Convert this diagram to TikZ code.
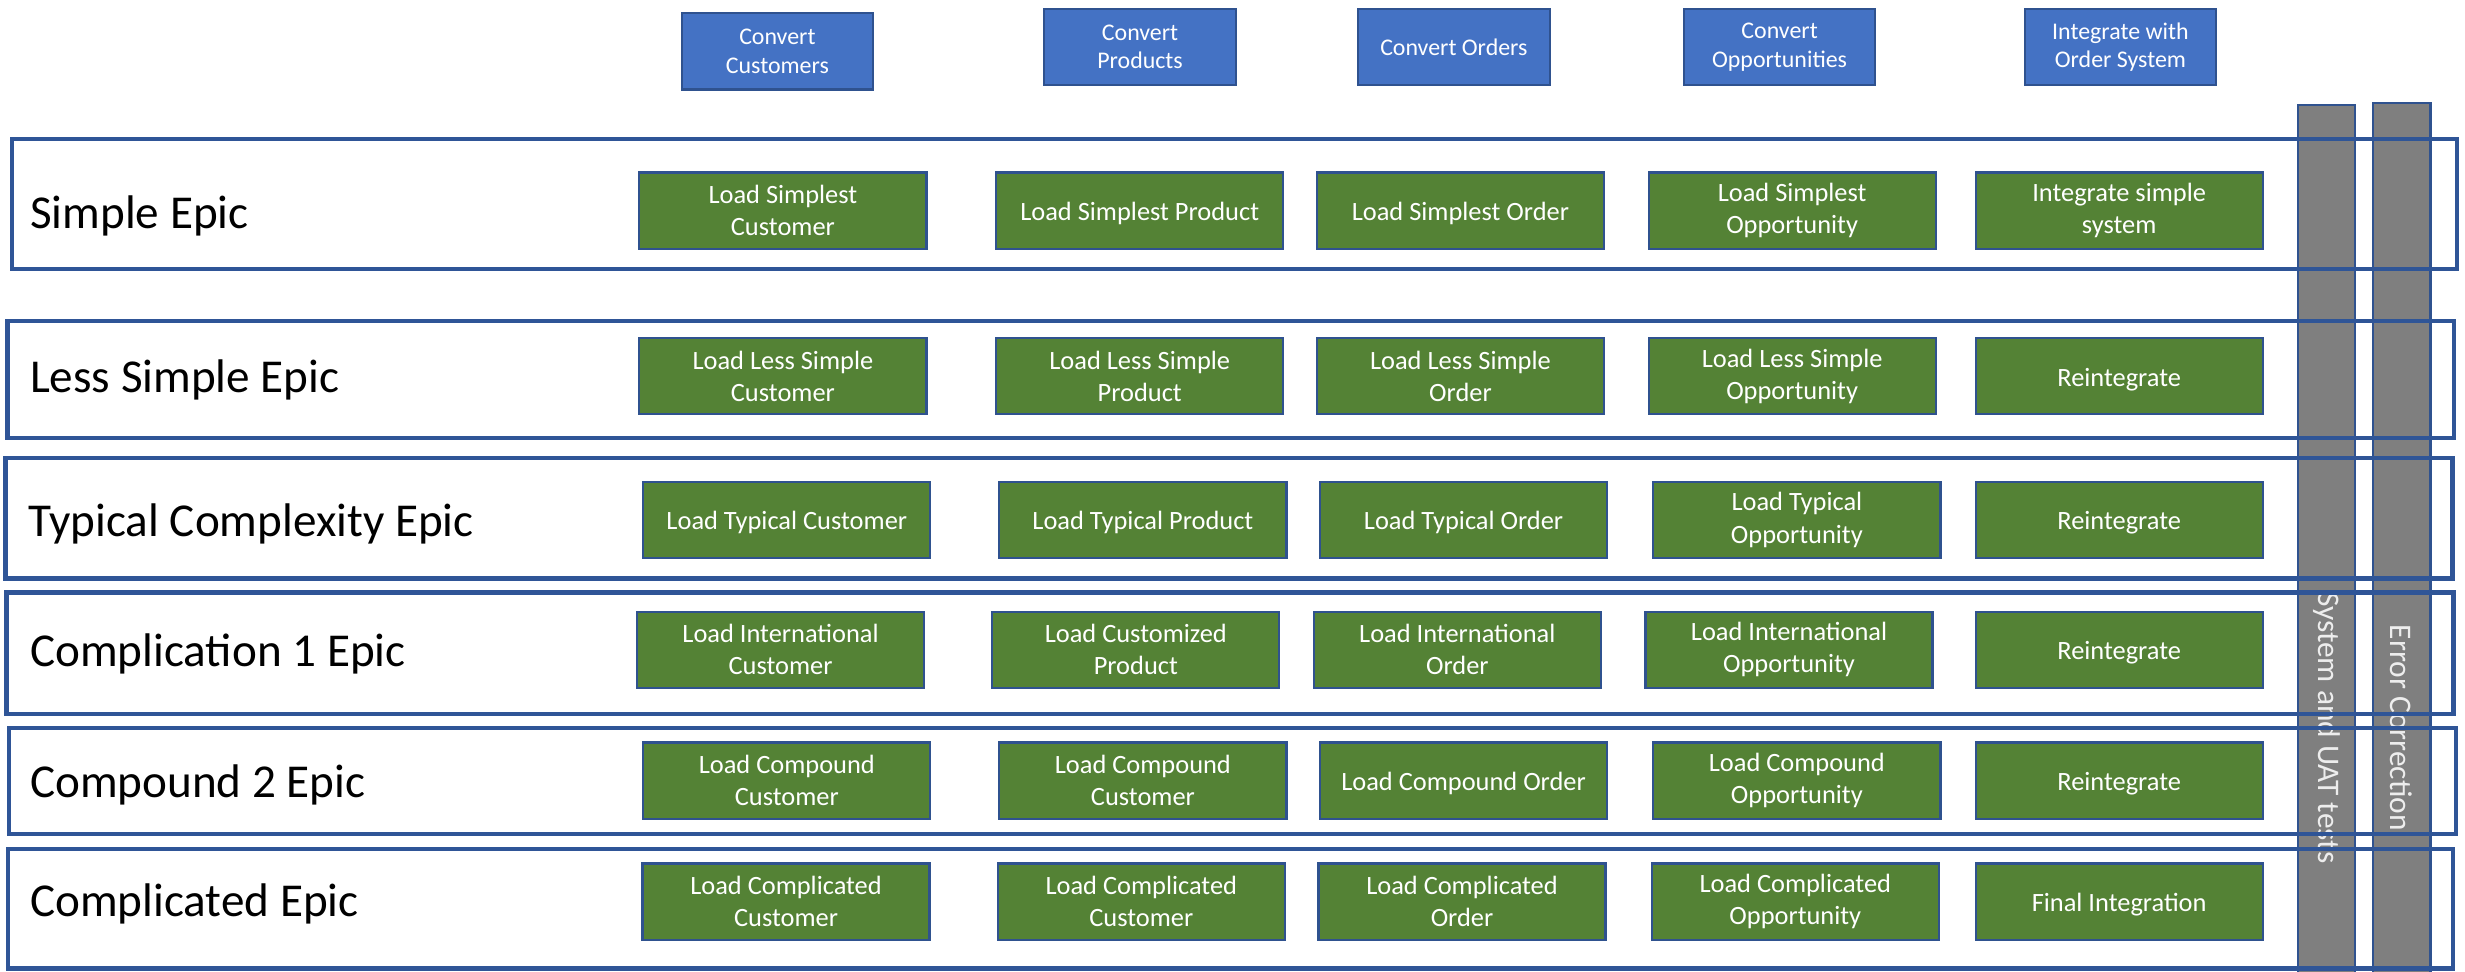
\documentclass[tikz,border=0pt]{standalone}
\usepackage{fontspec}
\setmainfont{Carlito}
\usepackage{xcolor}
\definecolor{frameColor}{HTML}{2F5597}
\definecolor{lineColor}{HTML}{2F528F}
\definecolor{taskBgColor}{HTML}{548235}
\definecolor{convBgColor}{HTML}{4472C4}
\definecolor{barBgColor}{HTML}{7F7F7F}
\definecolor{barTextColor}{HTML}{EDEDED}
\def\epicA{Simple Epic}
\def\epicB{Less Simple Epic}
\def\epicC{Typical Complexity Epic}
\def\epicD{Complication 1 Epic}
\def\epicE{Compound 2 Epic}
\def\epicF{Complicated Epic}

\begin{document}
\begin{tikzpicture}[x=1bp,y=-1bp,
taskbox/.style={draw=lineColor, line width=1.4bp, fill=taskBgColor, text=white,
minimum width=182.6bp, minimum height=48.5bp, inner sep=0pt, align=center,
font=\fontsize{16.8bp}{20.5bp}\selectfont},
taskline/.style={taskbox, text height=16bp, text depth=3.4bp},
convbox/.style={draw=lineColor, line width=1.4bp, fill=convBgColor, text=white,
minimum width=121.8bp, minimum height=48.5bp, inner sep=0pt, align=center,
font=\fontsize{15.2bp}{18bp}\selectfont},
epiclabel/.style={anchor=base west, inner sep=0pt,
font=\fontsize{30bp}{36bp}\selectfont},
epicframe/.style={draw=frameColor, line width=2.8bp},
barbox/.style={draw=lineColor, line width=1.4bp, fill=barBgColor},
bartext/.style={rotate=-90, text=barTextColor, inner sep=0pt,
font=\fontsize{20bp}{24bp}\selectfont}]

% page
\path[use as bounding box, fill=white] (0, 0) rectangle (1568, 617.7);

% bar layer
\begin{scope}
\filldraw[barbox] (1462, 66.8) rectangle (1498, 620);
\filldraw[barbox] (1509.5, 65.3) rectangle (1546, 620);
\node[bartext] (testBar) at (1480, 463) {System and UAT tests};
\node[bartext] (fixBar) at (1527.7, 463) {Error Correction};
\end{scope}

% epic layer
\begin{scope}
\draw[epicframe] (7.5, 88.4) rectangle (1563, 171);
\draw[epicframe] (4.7, 204) rectangle (1561, 278.7);
\draw[epicframe] (3.6, 291.2) rectangle (1560, 368);
\draw[epicframe] (4.2, 377) rectangle (1560.7, 454);
\draw[epicframe] (5.7, 463.2) rectangle (1562.4, 530.6);
\draw[epicframe] (5, 540) rectangle (1560.5, 616);
\node[epiclabel] (epicA) at (19, 145.5) {\epicA};
\node[epiclabel] (epicB) at (19, 249.8) {\epicB};
\node[epiclabel] (epicC) at (18, 341.4) {\epicC};
\node[epiclabel] (epicD) at (19, 423.7) {\epicD};
\node[epiclabel] (epicE) at (19, 507) {\epicE};
\node[epiclabel] (epicF) at (19, 583) {\epicF};
\end{scope}

% conversion layer
\begin{scope}
\node[convbox] (convA) at (494.5, 32.7) {Convert\\Customers};
\node[convbox] (convB) at (725.2, 30) {Convert\\Products};
\node[convbox] (convC) at (924.8, 30) {Convert Orders};
\node[convbox] (convD) at (1132, 30) {Convert\\Opportunities};
\node[convbox] (convE) at (1348.8, 30) {Integrate with\\Order System};
\end{scope}

% task layer
\begin{scope}
\node[taskbox] (taskA1) at (498, 134) {Load Simplest\\Customer};
\node[taskline] (taskA2) at (725, 134) {Load Simplest Product};
\node[taskline] (taskA3) at (929, 134) {Load Simplest Order};
\node[taskbox] (taskA4) at (1140, 134) {Load Simplest\\Opportunity};
\node[taskbox] (taskA5) at (1348, 134) {Integrate simple\\system};

\node[taskbox] (taskB1) at (498, 239.3) {Load Less Simple\\Customer};
\node[taskbox] (taskB2) at (725, 239.3) {Load Less Simple\\Product};
\node[taskbox] (taskB3) at (929, 239.3) {Load Less Simple\\Order};
\node[taskbox] (taskB4) at (1140, 239.3) {Load Less Simple\\Opportunity};
\node[taskline] (taskB5) at (1348, 239.3) {Reintegrate};

\node[taskline] (taskC1) at (500.5, 330.7) {Load Typical Customer};
\node[taskline] (taskC2) at (727, 330.7) {Load Typical Product};
\node[taskline] (taskC3) at (931, 330.7) {Load Typical Order};
\node[taskbox] (taskC4) at (1143, 330.7) {Load Typical\\Opportunity};
\node[taskline] (taskC5) at (1348, 330.7) {Reintegrate};

\node[taskbox] (taskD1) at (496.5, 413.3) {Load International\\Customer};
\node[taskbox] (taskD2) at (722.5, 413.3) {Load Customized\\Product};
\node[taskbox] (taskD3) at (927, 413.3) {Load International\\Order};
\node[taskbox] (taskD4) at (1138, 413.3) {Load International\\Opportunity};
\node[taskline] (taskD5) at (1348, 413.3) {Reintegrate};

\node[taskbox] (taskE1) at (500.5, 496.5) {Load Compound\\Customer};
\node[taskbox] (taskE2) at (727, 496.5) {Load Compound\\Customer};
\node[taskline] (taskE3) at (931, 496.5) {Load Compound Order};
\node[taskbox] (taskE4) at (1143, 496.5) {Load Compound\\Opportunity};
\node[taskline] (taskE5) at (1348, 496.5) {Reintegrate};

\node[taskbox] (taskF1) at (500, 573.5) {Load Complicated\\Customer};
\node[taskbox] (taskF2) at (726, 573.5) {Load Complicated\\Customer};
\node[taskbox] (taskF3) at (930, 573.5) {Load Complicated\\Order};
\node[taskbox] (taskF4) at (1142, 573.5) {Load Complicated\\Opportunity};
\node[taskline] (taskF5) at (1348, 573.5) {Final Integration};
\end{scope}

\end{tikzpicture}
\end{document}
